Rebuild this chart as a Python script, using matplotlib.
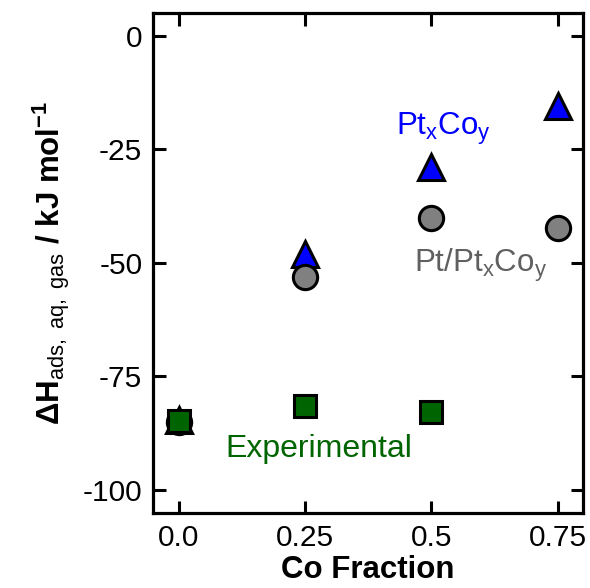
import numpy as np
import matplotlib.pyplot as plt

plt.rcParams['font.family'] = 'Liberation Sans'
plt.rcParams['mathtext.fontset'] = 'custom'
plt.rcParams['mathtext.rm'] = 'Liberation Sans'
plt.rcParams['mathtext.it'] = 'Liberation Sans'
plt.rcParams['mathtext.bf'] = 'Liberation Sans:bold'

## data
co_frac = [0.0, 0.25, 0.5, 0.75]
ptco = [-84.5, -48.0, -28.8, -15.4]
pt_ptco = [-85.0, -53.2, -40.2, -42.4]
exp_frac = [0.0, 0.25, 0.5]
experimental = [-84.9, -81.6, -82.9]

fig, ax = plt.subplots(figsize=(5.9, 5.88), dpi=100)
fig.subplots_adjust(left=0.26, right=0.988, top=0.978, bottom=0.128)

ax.plot(co_frac, ptco, '^', ms=19, mfc='#0000ff', mec='black', mew=2.2, ls='none', zorder=3)
ax.plot(co_frac, pt_ptco, 'o', ms=17.5, mfc='#808080', mec='black', mew=2.2, ls='none', zorder=4)
ax.plot(exp_frac, experimental, 's', ms=16, mfc='#006400', mec='black', mew=2.2, ls='none', zorder=5)

ax.text(0.43, -20.5, r'Pt$_\mathregular{x}$Co$_\mathregular{y}$', color='#0000ff', fontsize=22.5, va='center')
ax.text(0.465, -50.5, r'Pt/Pt$_\mathregular{x}$Co$_\mathregular{y}$', color='#606060', fontsize=22.5, va='center')
ax.text(0.093, -91, 'Experimental', color='#006400', fontsize=23, va='center')

ax.set_xlim(-0.05, 0.8)
ax.set_ylim(-105, 5)
ax.set_xticks(co_frac)
ax.set_xticklabels(['0.0', '0.25', '0.5', '0.75'])
ax.set_yticks([0, -25, -50, -75, -100])
ax.set_yticklabels(['0', '-25', '-50', '-75', '-100'])
ax.tick_params(direction='in', length=9, width=2.2, labelsize=21.5, top=True, right=True, pad=8)

for s in ax.spines.values():
    s.set_linewidth(2.3)

ax.set_xlabel('Co Fraction', fontsize=22.5, fontweight='bold', labelpad=2)
ax.set_ylabel(r'$\mathbf{\Delta H}_\mathregular{ads,\ aq,\ gas}\mathbf{\ /\ kJ\ mol^{-1}}$', fontsize=22.5, labelpad=8)

plt.savefig('out.png')
